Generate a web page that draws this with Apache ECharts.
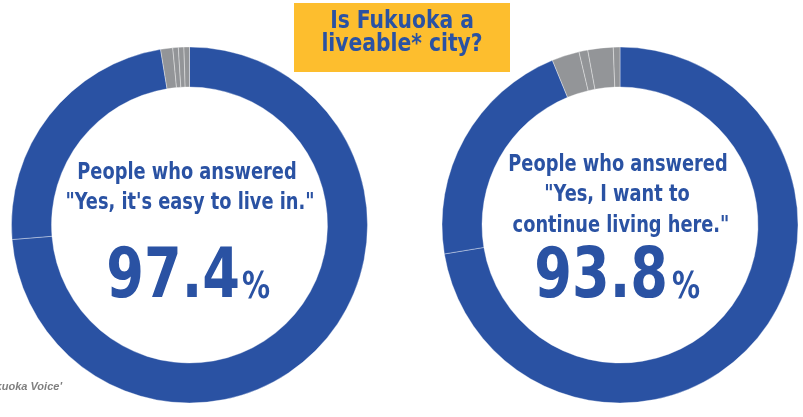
<!DOCTYPE html>
<html><head><meta charset="utf-8">
<script src="https://cdn.jsdelivr.net/npm/echarts@6/dist/echarts.min.js"></script>
<style>html,body{margin:0;padding:0;background:#fff}#c{width:803px;height:417px}</style>
</head><body><div id="c"></div>
<script>
const categoriesLeft = ['Easy to live in', 'Somewhat easy to live in', 'Somewhat hard to live in', 'Hard to live in', "Don't know", 'No answer'];
const valuesLeft = [73.7, 23.7, 1.1, 0.5, 0.5, 0.5];
const categoriesRight = ['Want to keep living here', 'Somewhat want to keep living here', 'Somewhat want to move', 'Want to move', "Don't know", 'No answer'];
const valuesRight = [72.4, 21.4, 2.5, 0.8, 2.3, 0.6];
const titleLines = ['Is Fukuoka a', 'liveable* city?'];
const leftLines = ['People who answered', '"Yes, it\'s easy to live in."'];
const rightLines = ['People who answered', '"Yes, I want to', 'continue living here."'];
const leftTotal = '97.4';
const rightTotal = '93.8';
const sourceText = "Source: City of Fukuoka 'Fukuoka Voice'";

const BLUE = '#2a52a3', GREY = '#939598', YELLOW = '#fdbe2e';
const FONT = '"DejaVu Sans Condensed","DejaVu Sans",sans-serif';
const colorFor = (i) => i < 2 ? BLUE : GREY;

function pieSeries(cats, vals, cx) {
  return {
    type: 'pie', center: [cx, 225], radius: [138, 178], startAngle: 90, clockwise: true,
    label: {show: false}, labelLine: {show: false}, silent: true, animation: false,
    itemStyle: {borderColor: 'rgba(255,255,255,0.45)', borderWidth: 0.8},
    data: cats.map((c, i) => ({name: c, value: vals[i], itemStyle: {color: colorFor(i)}}))
  };
}
function txt(text, x, y, size, sx, align) {
  return {type: 'text', x: x, y: y, scaleX: sx, z: 10,
    style: {text: text, fill: BLUE, font: 'bold ' + size + 'px ' + FONT, align: align || 'center', verticalAlign: 'middle'}};
}
const BODY = 23, BSX = 0.86;
const graphics = [
  {type: 'rect', shape: {x: 294, y: 3, width: 216, height: 69}, style: {fill: YELLOW}},
  txt(titleLines[0], 402, 22, 24, 0.94),
  txt(titleLines[1], 402, 45, 24, 0.94),
  txt(leftLines[0], 187, 173, BODY, BSX),
  txt(leftLines[1], 190, 203, BODY, BSX),
  txt(leftTotal, 240, 279, 70, 0.86, 'right'),
  txt('%', 242, 288, 38, 0.82, 'left'),
  txt(rightLines[0], 618, 165, BODY, BSX),
  txt(rightLines[1], 617, 195, BODY, BSX),
  txt(rightLines[2], 621, 226, BODY, BSX),
  txt(rightTotal, 668, 279, 70, 0.86, 'right'),
  txt('%', 672, 288, 38, 0.82, 'left'),
  {type: 'text', x: 62, y: 387, style: {text: sourceText, fill: '#7f7f7f', font: 'italic bold 11px "Liberation Sans",sans-serif', align: 'right', verticalAlign: 'middle'}}
];
const chart = echarts.init(document.getElementById('c'), null, {renderer: 'canvas'});
chart.setOption({
  animation: false,
  series: [pieSeries(categoriesLeft, valuesLeft, 189.5), pieSeries(categoriesRight, valuesRight, 620)],
  graphic: graphics
});
</script></body></html>
